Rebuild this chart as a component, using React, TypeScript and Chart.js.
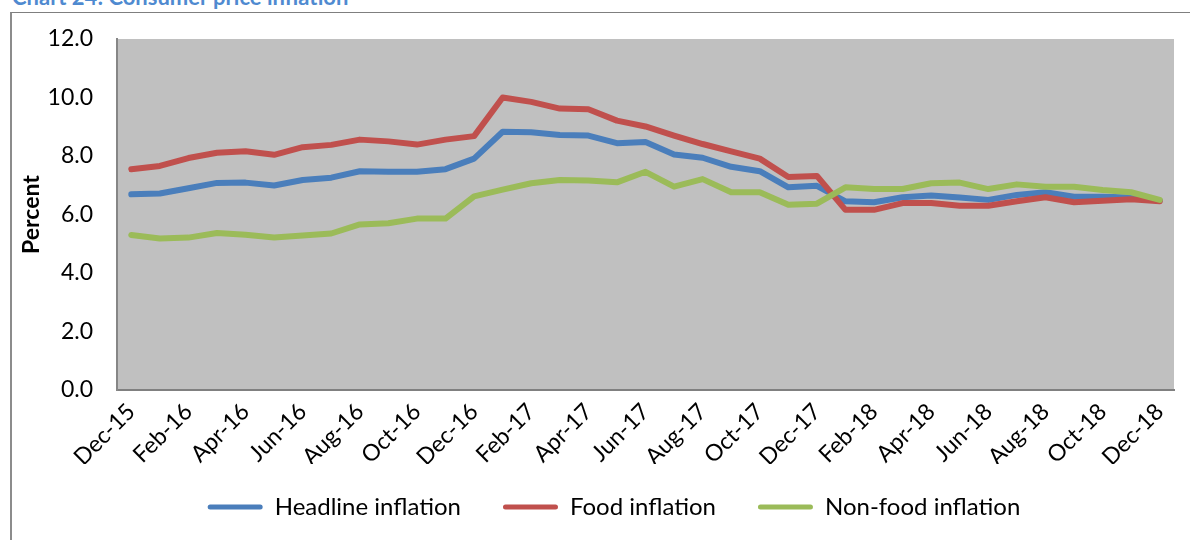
import React, { useEffect, useRef } from "react";
import { Chart, registerables } from "chart.js";

Chart.register(...registerables);

const months = [
  "Dec-15", "Jan-16", "Feb-16", "Mar-16", "Apr-16", "May-16", "Jun-16", "Jul-16", "Aug-16", "Sep-16", "Oct-16", "Nov-16",
  "Dec-16", "Jan-17", "Feb-17", "Mar-17", "Apr-17", "May-17", "Jun-17", "Jul-17", "Aug-17", "Sep-17", "Oct-17", "Nov-17",
  "Dec-17", "Jan-18", "Feb-18", "Mar-18", "Apr-18", "May-18", "Jun-18", "Jul-18", "Aug-18", "Sep-18", "Oct-18", "Nov-18",
  "Dec-18",
];

const headline = [
  6.69, 6.72, 6.90, 7.08, 7.09, 6.99, 7.18, 7.26, 7.48, 7.46, 7.46, 7.55, 7.91,
  8.83, 8.81, 8.72, 8.70, 8.44, 8.48, 8.05, 7.94, 7.63, 7.48, 6.93, 6.98,
  6.45, 6.42, 6.59, 6.65, 6.58, 6.50, 6.67, 6.76, 6.61, 6.61, 6.58, 6.47,
];

const food = [
  7.55, 7.66, 7.93, 8.11, 8.16, 8.04, 8.30, 8.38, 8.56, 8.50, 8.39, 8.56, 8.68,
  10.00, 9.85, 9.62, 9.60, 9.21, 9.01, 8.70, 8.41, 8.16, 7.91, 7.28, 7.32,
  6.16, 6.16, 6.39, 6.39, 6.30, 6.30, 6.45, 6.59, 6.42, 6.47, 6.52, 6.45,
];

const nonFood = [
  5.30, 5.18, 5.21, 5.37, 5.31, 5.21, 5.28, 5.35, 5.66, 5.70, 5.86, 5.86, 6.62,
  6.85, 7.07, 7.18, 7.16, 7.10, 7.46, 6.95, 7.21, 6.76, 6.76, 6.33, 6.37,
  6.93, 6.87, 6.87, 7.07, 7.09, 6.87, 7.03, 6.95, 6.95, 6.84, 6.76, 6.50,
];

const seriesNames = ["Headline inflation", "Food inflation", "Non-food inflation"];
const seriesColors = ["#4A7EBB", "#C0504D", "#9BBB59"];

const FONT = "Lato, 'Open Sans', sans-serif";

const plotBg = {
  id: "plotBg",
  beforeDraw(chart: any) {
    const { ctx, chartArea } = chart;
    ctx.save();
    ctx.fillStyle = "#C0C0C0";
    ctx.fillRect(chartArea.left, chartArea.top, chartArea.right - chartArea.left, chartArea.bottom - chartArea.top);
    ctx.restore();
  },
};

// shifts the legend box so it is centred like the original (chart object wider than the picture)
const legendShift = {
  id: "legendShift",
  afterLayout(chart: any) {
    const lg = chart.legend;
    if (!lg) return;
    const dx = 22;
    const dy = -11;
    lg.left += dx;
    lg.right += dx;
    lg.top += dy;
    lg.bottom += dy;
  },
};

export default function App() {
  const ref = useRef<HTMLCanvasElement | null>(null);

  useEffect(() => {
    if (!ref.current) return;
    const values = [headline, food, nonFood];
    const chart = new Chart(ref.current, {
      type: "line",
      data: {
        labels: months,
        datasets: values.map((v, i) => ({
          label: seriesNames[i],
          data: v,
          borderColor: seriesColors[i],
          backgroundColor: seriesColors[i],
          borderWidth: 6,
          pointRadius: 0,
          tension: 0,
          borderJoinStyle: "round" as const,
          borderCapStyle: "round" as const,
          order: 3 - i,
        })),
      },
      plugins: [plotBg, legendShift],
      options: {
        responsive: false,
        animation: false,
        devicePixelRatio: 1,
        layout: { padding: { left: 10, right: 16, top: 39, bottom: 0 } },
        plugins: {
          tooltip: { enabled: false },
          legend: {
            position: "bottom",
            labels: {
              font: { family: FONT, size: 24 },
              color: "#000",
              boxWidth: 55,
              boxHeight: 5,
              padding: 42,
              useBorderRadius: true,
              borderRadius: 2.5,
              sort: (a: any, b: any) => a.datasetIndex - b.datasetIndex,
              generateLabels: (chart: any) => {
                const items = (Chart.defaults.plugins.legend.labels as any).generateLabels(chart);
                return items.map((it: any) => ({ ...it, fillStyle: it.strokeStyle, lineWidth: 0 }));
              },
            },
          },
        },
        scales: {
          x: {
            type: "category",
            offset: true,
            grid: { display: false, drawTicks: false, tickLength: 0 },
            border: { display: true, color: "#808080", width: 2 },
            ticks: {
              autoSkip: false,
              maxRotation: 45,
              minRotation: 45,
              padding: 8,
              color: "#000",
              font: { family: FONT, size: 23 },
              callback: (_v: any, i: number) => (i % 2 === 0 ? months[i] : ""),
            },
            afterFit: (s: any) => {
              s.height = 74;
            },
          },
          y: {
            min: 0,
            max: 12,
            grid: { display: false, drawTicks: false, tickLength: 0 },
            border: { display: true, color: "#868686", width: 2 },
            ticks: {
              stepSize: 2,
              padding: 24,
              color: "#000",
              font: { family: FONT, size: 23 },
              callback: (v: any) => Number(v).toFixed(1),
            },
            title: {
              display: true,
              text: "Percent",
              color: "#000",
              font: { family: FONT, size: 23, weight: "bold" },
              padding: { top: 8, bottom: 0 },
            },
            afterFit: (s: any) => {
              s.width = 107;
            },
          },
        },
      },
    });
    return () => chart.destroy();
  }, []);

  return (
    <div style={{ position: "absolute", left: 0, top: 0, width: 1190, height: 540, overflow: "hidden", background: "#fff" }}>
      <div
        style={{
          position: "absolute",
          left: 12,
          top: -14,
          fontFamily: FONT,
          fontWeight: "bold",
          fontSize: 22,
          lineHeight: "22px",
          color: "#4F8AD0",
          whiteSpace: "nowrap",
        }}
      >
        Chart 24: Consumer price inflation
      </div>
      <div
        style={{
          position: "absolute",
          left: 10,
          top: 12,
          width: 1300,
          height: 700,
          borderLeft: "2px solid #8C8C8C",
          borderTop: "1px solid #7F7F7F",
        }}
      />
      <canvas ref={ref} width={1190} height={540} style={{ position: "absolute", left: 0, top: 0, width: 1190, height: 540 }} />
    </div>
  );
}
